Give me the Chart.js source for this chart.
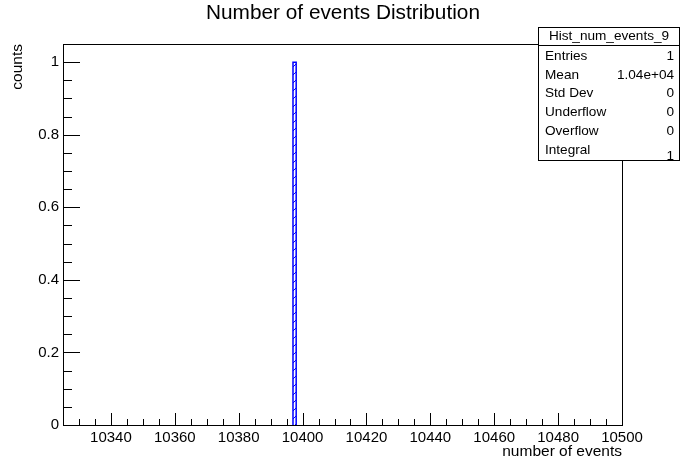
<!DOCTYPE html>
<html>
<head>
<meta charset="utf-8">
<script src="https://cdn.jsdelivr.net/npm/chart.js@4/dist/chart.umd.min.js"></script>
<style>
  html, body { margin: 0; padding: 0; background: #fff; }
  #wrap { width: 689px; height: 469px; }
</style>
</head>
<body>
<div id="wrap"><canvas id="hist" width="689" height="469"></canvas></div>
<script>
// ---- histogram data ----
const binLow = [10397];
const binHigh = [10398];
const binCounts = [1];

const xRange = [10325, 10500];
const yRange = [0, 1.05];
const xTicks = [10340, 10360, 10380, 10400, 10420, 10440, 10460, 10480, 10500];
const yTicks = [0, 0.2, 0.4, 0.6, 0.8, 1];
const xMinorStep = 5;
const yMinorStep = 0.05;

const titleText = 'Number of events Distribution';
const xTitle = 'number of events';
const yTitle = 'counts';

const statsName = 'Hist_num_events_9';
const statsLabels = ['Entries', 'Mean', 'Std Dev', 'Underflow', 'Overflow', 'Integral'];
const statsValues = ['1', '1.04e+04', '0', '0', '0', '1'];

const FONT = '"Liberation Sans", Arial, Helvetica, sans-serif';
const BLUE = '#0000ff';

// outline points of each filled bin (step shape)
const histPoints = [];
binLow.forEach((lo, i) => {
    const hi = binHigh[i];
    const c = binCounts[i];
    histPoints.push({ x: lo, y: 0 }, { x: lo, y: c }, { x: hi, y: c }, { x: hi, y: 0 });
});

// hatch fill like ROOT's 3xxx fill styles
function makeHatch() {
    const p = document.createElement('canvas');
    p.width = 8; p.height = 8;
    const g = p.getContext('2d');
    g.strokeStyle = BLUE;
    g.lineWidth = 1;
    g.beginPath();
    g.moveTo(0, 8); g.lineTo(8, 0);
    g.moveTo(-1, 1); g.lineTo(1, -1);
    g.moveTo(7, 9); g.lineTo(9, 7);
    g.stroke();
    return g.createPattern(p, 'repeat');
}

// frame, inward ticks, titles and stats box
const rootDecor = {
    id: 'rootDecor',
    afterDraw(chart) {
        const ctx = chart.ctx;
        const a = chart.chartArea;
        const xs = chart.scales.x, ys = chart.scales.y;
        ctx.save();
        ctx.strokeStyle = '#000';
        ctx.lineWidth = 1;

        // frame
        ctx.strokeRect(Math.round(a.left) + 0.5, Math.round(a.top) + 0.5,
            Math.round(a.right - a.left), Math.round(a.bottom - a.top));

        // x ticks
        ctx.beginPath();
        for (let v = xRange[0] + xMinorStep; v < xRange[1] + 1e-6; v += xMinorStep) {
            const px = Math.round(xs.getPixelForValue(v)) + 0.5;
            const major = xTicks.includes(v);
            const len = major ? 12 : 6;
            ctx.moveTo(px, a.bottom);
            ctx.lineTo(px, a.bottom - len);
        }
        // y ticks
        for (let k = 0; k * yMinorStep < yRange[1] - 1e-6; k++) {
            const v = k * yMinorStep;
            const py = Math.round(ys.getPixelForValue(v)) + 0.5;
            const major = k % 4 === 0;
            const len = major ? 17 : 9;
            ctx.moveTo(a.left, py);
            ctx.lineTo(a.left + len, py);
        }
        ctx.stroke();

        // title
        ctx.fillStyle = '#000';
        ctx.font = '20.8px ' + FONT;
        ctx.textAlign = 'center';
        ctx.textBaseline = 'middle';
        ctx.fillText(titleText, 343, 13);

        // axis titles
        ctx.font = '15.5px ' + FONT;
        ctx.textAlign = 'right';
        ctx.fillText(xTitle, a.right, 452);
        ctx.save();
        ctx.translate(18, a.top);
        ctx.rotate(-Math.PI / 2);
        ctx.textAlign = 'right';
        ctx.fillText(yTitle, 0, 0);
        ctx.restore();

        // stats box
        const bx = 538.5, by = 27.5, bw = 141, bh = 133;
        ctx.fillStyle = '#fff';
        ctx.fillRect(bx, by, bw, bh);
        ctx.strokeRect(bx, by, bw, bh);
        ctx.beginPath();
        ctx.moveTo(bx, 45.5);
        ctx.lineTo(bx + bw, 45.5);
        ctx.stroke();
        ctx.fillStyle = '#000';
        ctx.font = '13.6px ' + FONT;
        ctx.textAlign = 'center';
        ctx.fillText(statsName, bx + bw / 2, 36.5);
        statsLabels.forEach((lab, i) => {
            const y = 56 + i * 18.8;
            ctx.textAlign = 'left';
            ctx.fillText(lab, 545, y);
            ctx.textAlign = 'right';
            ctx.fillText(statsValues[i], 674, i === statsLabels.length - 1 ? y + 6 : y);
        });
        ctx.restore();
    }
};

new Chart(document.getElementById('hist'), {
    type: 'line',
    data: {
        datasets: [{
            data: histPoints,
            borderColor: BLUE,
            borderWidth: 1.5,
            backgroundColor: makeHatch(),
            fill: 'origin',
            pointRadius: 0,
            tension: 0
        }]
    },
    options: {
        responsive: false,
        animation: false,
        layout: { padding: { top: 44, right: 67, left: 0, bottom: 0 } },
        plugins: {
            legend: { display: false },
            tooltip: { enabled: false }
        },
        scales: {
            x: {
                type: 'linear',
                min: xRange[0],
                max: xRange[1],
                afterFit: s => { s.height = 44; },
                afterBuildTicks: s => { s.ticks = xTicks.map(v => ({ value: v })); },
                grid: { display: false, drawTicks: false },
                border: { display: false },
                ticks: {
                    padding: 4,
                    maxRotation: 0,
                    autoSkip: false,
                    color: '#000',
                    font: { family: FONT, size: 15 },
                    callback: v => String(v)
                }
            },
            y: {
                type: 'linear',
                min: yRange[0],
                max: yRange[1],
                afterFit: s => { s.width = 63; },
                afterBuildTicks: s => { s.ticks = yTicks.map(v => ({ value: v })); },
                grid: { display: false, drawTicks: false },
                border: { display: false },
                ticks: {
                    padding: 4,
                    autoSkip: false,
                    color: '#000',
                    font: { family: FONT, size: 15 },
                    callback: v => String(+v.toFixed(2))
                }
            }
        }
    },
    plugins: [rootDecor]
});
</script>
</body>
</html>
